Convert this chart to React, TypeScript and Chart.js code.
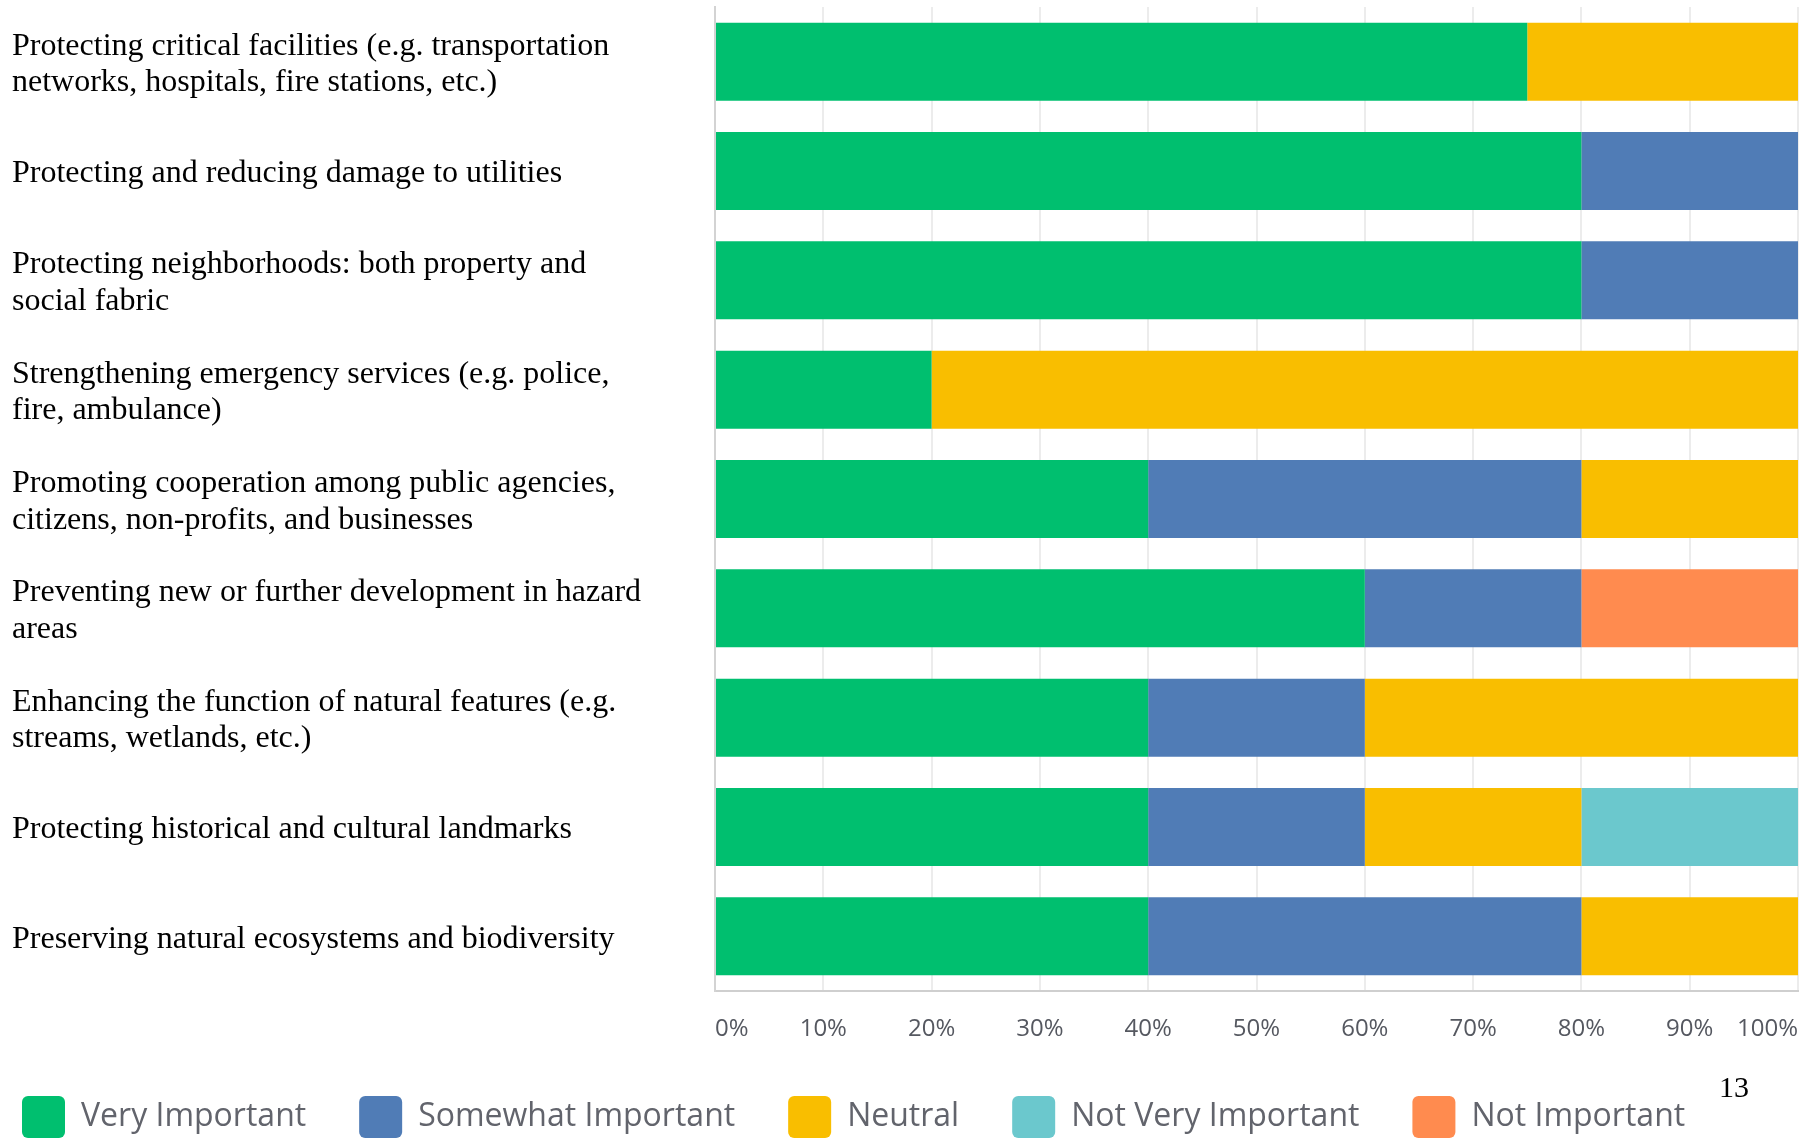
import React, { useEffect, useRef } from "react";
import { Chart, registerables } from "chart.js";

Chart.register(...registerables);

const categories: (string | string[])[] = [
  ["Protecting critical facilities (e.g. transportation", "networks, hospitals, fire stations, etc.)"],
  "Protecting and reducing damage to utilities",
  ["Protecting neighborhoods: both property and", "social fabric"],
  ["Strengthening emergency services (e.g. police,", "fire, ambulance)"],
  ["Promoting cooperation among public agencies,", "citizens, non-profits, and businesses"],
  ["Preventing new or further development in hazard", "areas"],
  ["Enhancing the function of natural features (e.g.", "streams, wetlands, etc.)"],
  "Protecting historical and cultural landmarks",
  "Preserving natural ecosystems and biodiversity",
];

const seriesNames = ["Very Important", "Somewhat Important", "Neutral", "Not Very Important", "Not Important"];
const veryImportant = [75, 80, 80, 20, 40, 60, 40, 40, 40];
const somewhatImportant = [0, 20, 20, 0, 40, 20, 20, 20, 40];
const neutral = [25, 0, 0, 80, 20, 0, 40, 20, 20];
const notVeryImportant = [0, 0, 0, 0, 0, 0, 0, 20, 0];
const notImportant = [0, 0, 0, 0, 0, 20, 0, 0, 0];
const seriesColors = ["#00BF6F", "#507CB6", "#F9BE00", "#6BC8CD", "#FF8B4F"];

const xTicks = [0, 10, 20, 30, 40, 50, 60, 70, 80, 90, 100];
const pageNumber = "13";

const LEGEND_PAD = 53;

const legendShift = {
  id: "legendShift",
  afterLayout(chart: any) {
    const lg = chart.legend;
    if (!lg) return;
    const dx = 22 - (lg.left + LEGEND_PAD);
    lg.left += dx;
    lg.right += dx;
    const dy = 1096 - (lg.top + LEGEND_PAD);
    lg.top += dy;
    lg.bottom += dy;
  },
};

export default function App() {
  const ref = useRef<HTMLCanvasElement | null>(null);

  useEffect(() => {
    if (!ref.current) return;
    const values = [veryImportant, somewhatImportant, neutral, notVeryImportant, notImportant];
    const chart = new Chart(ref.current, {
      type: "bar",
      data: {
        labels: categories,
        datasets: seriesNames.map((name, i) => ({
          label: name,
          data: values[i],
          backgroundColor: seriesColors[i],
          borderWidth: 0,
          barPercentage: 0.713,
          categoryPercentage: 1,
        })),
      },
      plugins: [legendShift],
      options: {
        indexAxis: "y",
        animation: false,
        responsive: true,
        maintainAspectRatio: false,
        layout: { padding: { left: 12, right: 17, top: 7, bottom: -20 } },
        plugins: {
          tooltip: { enabled: false },
          legend: {
            position: "bottom",
            align: "start",
            labels: {
              boxWidth: 43,
              boxHeight: 42,
              padding: LEGEND_PAD,
              useBorderRadius: true,
              borderRadius: 6,
              color: "#62646c",
              font: { family: "'Open Sans'", size: 32 },
            },
          },
        },
        scales: {
          x: {
            stacked: true,
            min: 0,
            max: 100,
            afterBuildTicks: (s: any) => {
              s.ticks = xTicks.map((v) => ({ value: v }));
            },
            afterFit: (s: any) => {
              s.height = 63;
              s.paddingLeft = 0;
              s.paddingRight = 0;
            },
            ticks: {
              align: "inner",
              padding: 24,
              maxRotation: 0,
              autoSkip: false,
              color: "#555860",
              font: { family: "'Open Sans'", size: 24 },
              callback: (v: any) => v + "%",
            },
            grid: { color: "#ececec", lineWidth: 2, drawTicks: false },
            border: { display: true, color: "#cfcfcf", width: 2 },
          },
          y: {
            stacked: true,
            afterFit: (s: any) => {
              s.width = 703;
              s.paddingTop = 0;
              s.paddingBottom = 0;
            },
            ticks: {
              crossAlign: "far",
              labelOffset: 3,
              color: "#000000",
              font: { family: "'Liberation Serif'", size: 32, lineHeight: 1.15 },
              autoSkip: false,
            },
            grid: { display: false },
            border: { display: true, color: "#d3d3d3", width: 2 },
          },
        },
      },
    } as any);
    return () => chart.destroy();
  }, []);

  return (
    <div style={{ position: "fixed", left: 0, top: 0, width: 1815, height: 1139, background: "#ffffff" }}>
      <canvas ref={ref} />
      <div
        style={{
          position: "absolute",
          left: 1719,
          top: 1072,
          fontFamily: "'Liberation Serif'",
          fontSize: 30,
          lineHeight: "30px",
          color: "#000",
        }}
      >
        {pageNumber}
      </div>
    </div>
  );
}
